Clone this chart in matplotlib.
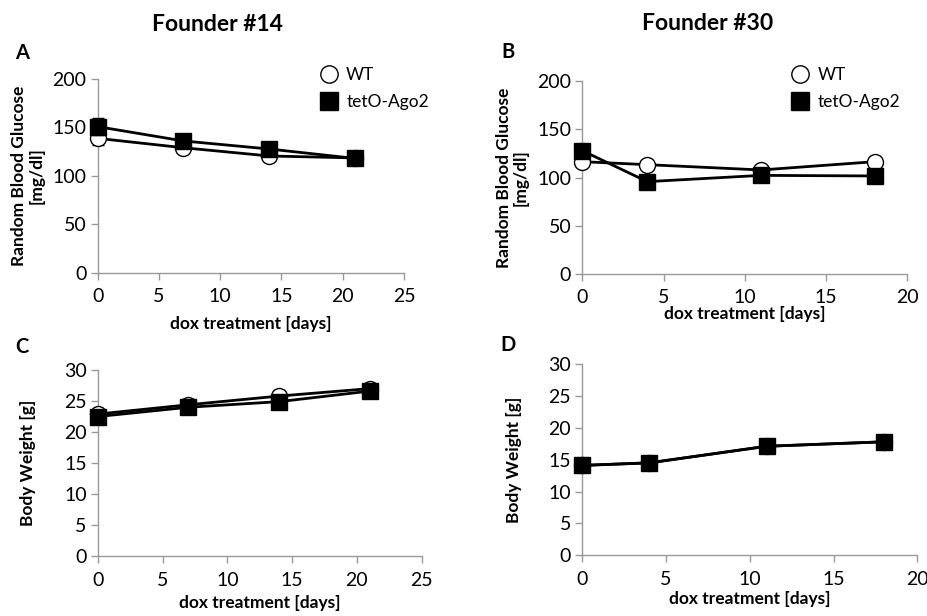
import matplotlib
matplotlib.use("Agg")
import matplotlib.pyplot as plt
from matplotlib.lines import Line2D

plt.rcParams["font.family"] = ["Lato", "DejaVu Sans"]

# Founder #14
days14 = [0, 7, 14, 21]
glu14_wt = [138.7, 129, 120.5, 118.5]
glu14_wt_err = [7, 4, 4, 3]
glu14_tg = [150.8, 136, 127.7, 118]
glu14_tg_err = [9, 3, 3, 3]
bw14_wt = [22.9, 24.4, 25.8, 27.0]
bw14_wt_err = [0.6, 1.0, 0.9, 0.7]
bw14_tg = [22.5, 24.0, 24.9, 26.6]
bw14_tg_err = [0.5, 0.5, 0.5, 0.5]

# Founder #30
days30 = [0, 4, 11, 18]
glu30_wt = [116.4, 113.3, 107.8, 116.4]
glu30_wt_err = [2, 2, 2, 5]
glu30_tg = [127.8, 95.7, 102.2, 101.6]
glu30_tg_err = [2, 2, 2, 2]
bw30_wt = [14.1, 14.5, 17.1, 17.8]
bw30_wt_err = [0.3, 0.3, 0.4, 0.4]
bw30_tg = [14.1, 14.5, 17.1, 17.8]
bw30_tg_err = [0.3, 0.3, 0.4, 0.4]

fig = plt.figure(figsize=(9.28, 6.16), dpi=100)

axA = fig.add_axes([0.1053, 0.5573, 0.330, 0.3145])
axB = fig.add_axes([0.6275, 0.5552, 0.3502, 0.3133])
axC = fig.add_axes([0.1053, 0.0969, 0.3491, 0.3025])
axD = fig.add_axes([0.6275, 0.0985, 0.3610, 0.3106])

def draw(ax, x, wt, wt_err, tg, tg_err):
    ax.errorbar(x, wt, yerr=wt_err, color="black", lw=2, marker="o", ms=11.5,
                mfc="white", mec="black", mew=1, capsize=4, elinewidth=1,
                clip_on=False, zorder=3)
    ax.errorbar(x, tg, yerr=tg_err, color="black", lw=2, marker="s", ms=11,
                mfc="black", mec="black", capsize=4, elinewidth=1,
                clip_on=False, zorder=4)

def style(ax, xmax, ymax, ystep, ylabel, ylabel_pad, xlabel_pad):
    ax.set_xlim(0, xmax)
    ax.set_ylim(0, ymax)
    ax.set_xticks(range(0, xmax + 1, 5))
    ax.set_yticks(range(0, ymax + 1, ystep))
    for s in ["top", "right"]:
        ax.spines[s].set_visible(False)
    for s in ["left", "bottom"]:
        ax.spines[s].set_color("#999999")
        ax.spines[s].set_linewidth(1)
    ax.tick_params(axis="both", colors="#999999", labelcolor="black",
                   labelsize=14, length=5, width=1, direction="out")
    ax.tick_params(axis="x", pad=6)
    ax.tick_params(axis="y", pad=3)
    ax.set_ylabel(ylabel, fontsize=12.5, fontweight="bold", labelpad=ylabel_pad,
                  linespacing=1.1)
    ax.set_xlabel("dox treatment [days]", fontsize=12.5, fontweight="bold",
                  labelpad=xlabel_pad)

draw(axA, days14, glu14_wt, glu14_wt_err, glu14_tg, glu14_tg_err)
draw(axB, days30, glu30_wt, glu30_wt_err, glu30_tg, glu30_tg_err)
draw(axC, days14, bw14_wt, bw14_wt_err, bw14_tg, bw14_tg_err)
draw(axD, days30, bw30_wt, bw30_wt_err, bw30_tg, bw30_tg_err)

style(axA, 25, 200, 50, "Random Blood Glucose\n[mg/dl]", 6, 8)
style(axB, 20, 200, 50, "Random Blood Glucose\n[mg/dl]", 6, 0)
style(axC, 25, 30, 5, "Body Weight [g]", 20, 4.5)
style(axD, 20, 30, 5, "Body Weight [g]", 19, 2.5)

handles = [
    Line2D([], [], ls="none", marker="o", ms=12.5, mfc="white", mec="black", mew=1),
    Line2D([], [], ls="none", marker="s", ms=12.5, mfc="black", mec="black"),
]
for x0 in [0.345, 0.853]:
    fig.legend(handles, ["WT", "tetO-Ago2"], loc="upper left",
               bbox_to_anchor=(x0, 0.891), bbox_transform=fig.transFigure,
               frameon=False, fontsize=12.5, handlelength=1.0,
               handletextpad=0.5, labelspacing=0.65, borderpad=0,
               borderaxespad=0)

fig.text(0.234, 0.960, "Founder #14", ha="center", va="center",
         fontsize=16.5, fontweight="bold")
fig.text(0.762, 0.962, "Founder #30", ha="center", va="center",
         fontsize=16.5, fontweight="bold")

for lbl, x, y in [("A", 0.024, 0.914), ("B", 0.547, 0.916),
                  ("C", 0.024, 0.436), ("D", 0.547, 0.440)]:
    fig.text(x, y, lbl, ha="center", va="center", fontsize=14.5, fontweight="bold")

fig.savefig("out.png", dpi=100)
